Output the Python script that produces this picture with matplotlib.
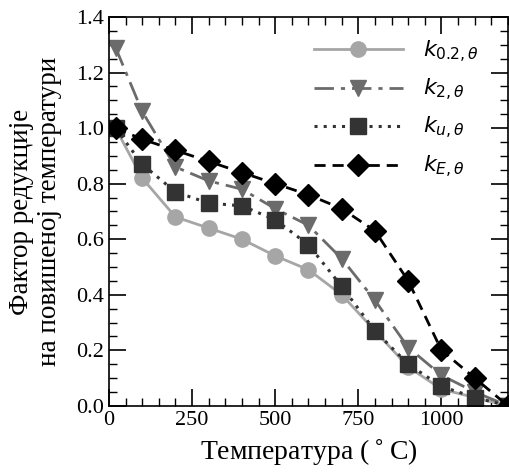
import matplotlib
matplotlib.use("Agg")
import matplotlib.pyplot as plt
from matplotlib.ticker import MultipleLocator

# Температуре (°C)
temps = [20, 100, 200, 300, 400, 500, 600, 700, 800, 900, 1000, 1100, 1200]

# Фактори редукције
k_02 = [1.00, 0.82, 0.68, 0.64, 0.60, 0.54, 0.49, 0.40, 0.27, 0.14, 0.06, 0.03, 0.00]
k_2 = [1.29, 1.06, 0.86, 0.81, 0.78, 0.71, 0.65, 0.53, 0.38, 0.21, 0.11, 0.05, 0.00]
k_u = [1.00, 0.87, 0.77, 0.73, 0.72, 0.67, 0.58, 0.43, 0.27, 0.15, 0.07, 0.03, 0.00]
k_E = [1.00, 0.96, 0.92, 0.88, 0.84, 0.80, 0.76, 0.71, 0.63, 0.45, 0.20, 0.10, 0.00]

labels = [r"$k_{0.2,\theta}$", r"$k_{2,\theta}$", r"$k_{u,\theta}$", r"$k_{E,\theta}$"]

plt.rcParams["font.family"] = "Liberation Serif"
plt.rcParams["mathtext.fontset"] = "dejavusans"

fig = plt.figure(figsize=(5.09, 4.73), dpi=100)
ax = fig.add_axes([0.214, 0.142, 0.784, 0.822])

ax.plot(temps, k_02, color="#a6a6a6", linestyle="-", lw=2, marker="o", ms=11, label=labels[0])
ax.plot(temps, k_2, color="#6b6b6b", linestyle=(0, (7, 2.5, 1.5, 2.5)), lw=2, marker="v", ms=12, label=labels[1])
ax.plot(temps, k_u, color="#333333", linestyle=(0, (1, 2)), lw=2.2, marker="s", ms=11.5, label=labels[2])
ax.plot(temps, k_E, color="black", linestyle=(0, (4, 2.5)), lw=2, marker="D", ms=11, label=labels[3])

ax.set_xlim(0, 1200)
ax.set_ylim(0, 1.4)
ax.xaxis.set_major_locator(MultipleLocator(250))
ax.xaxis.set_minor_locator(MultipleLocator(50))
ax.yaxis.set_major_locator(MultipleLocator(0.2))
ax.yaxis.set_minor_locator(MultipleLocator(0.05))
ax.tick_params(which="both", direction="in", top=True, right=True, labelsize=16)
ax.tick_params(which="major", length=12, width=1.2)
ax.tick_params(which="minor", length=6, width=1)
for s in ax.spines.values():
    s.set_linewidth(1.2)

ax.set_xlabel("Температура ($^\\circ$C)", fontsize=20, labelpad=6)
ax.set_ylabel("Фактор редукције\nна повишеној температури", fontsize=19.5,
              linespacing=1.2, labelpad=10)

ax.legend(loc="upper right", frameon=False, fontsize=16, handlelength=4.0,
          handletextpad=0.9, labelspacing=0.55, borderaxespad=0.3,
          bbox_to_anchor=(0.965, 0.985))

fig.savefig("out.png", dpi=100)
